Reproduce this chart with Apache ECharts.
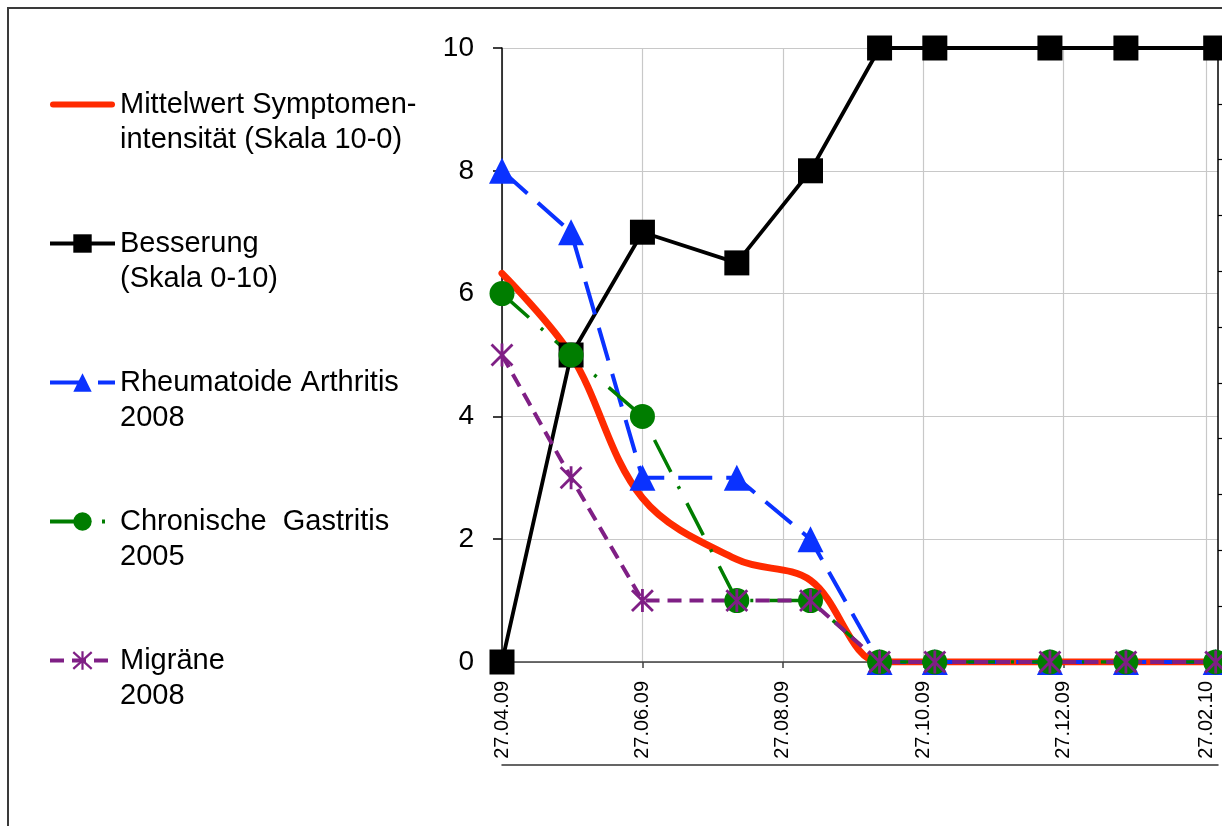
<!DOCTYPE html>
<html><head><meta charset="utf-8">
<script src="https://cdn.jsdelivr.net/npm/echarts@6/dist/echarts.min.js"></script>
<style>html,body{margin:0;padding:0;background:#fff}#c{width:1222px;height:826px}</style>
</head><body><div id="c"></div>
<script>
// ---- data ----
const dates = ['27.04.09','27.05.09','27.06.09','07.08.09','08.09.09','08.10.09','01.11.09','21.12.09','23.01.10','03.03.10'];
const tickLabels = ['27.04.09','27.06.09','27.08.09','27.10.09','27.12.09','27.02.10'];
const axisStart = '27.04.09';
const axisEnd = '04.03.10';
const seriesNames = [
  'Mittelwert Symptomen-\nintensität (Skala 10-0)',
  'Besserung\n(Skala 0-10)',
  'Rheumatoide Arthritis\n2008',
  'Chronische  Gastritis\n2005',
  'Migräne\n2008'
];
const mittelwert = [6.33, 5, 2.67, 1.67, 1.33, 0, 0, 0, 0, 0];
const besserung  = [0, 5, 7, 6.5, 8, 10, 10, 10, 10, 10];
const rheuma     = [8, 7, 3, 3, 2, 0, 0, 0, 0, 0];
const gastritis  = [6, 5, 4, 1, 1, 0, 0, 0, 0, 0];
const migraene   = [5, 3, 1, 1, 1, 0, 0, 0, 0, 0];
const yTicks = [0, 2, 4, 6, 8, 10];

// ---- helpers ----
const FONT = '"Liberation Sans", Arial, sans-serif';
const DAY = 86400000;
function parseD(s){ const p = s.split('.').map(Number); return Date.UTC(2000 + p[2], p[1] - 1, p[0]) / DAY; }
function two(n){ return (n < 10 ? '0' : '') + n; }
function fmt(v){ const d = new Date(Math.round(v) * DAY); return two(d.getUTCDate()) + '.' + two(d.getUTCMonth() + 1) + '.' + two(d.getUTCFullYear() % 100); }
const xs = dates.map(parseD);
const ticks = tickLabels.map(parseD);
const pairs = arr => xs.map((x, i) => [x, arr[i]]);

const RED = '#ff2a00', BLACK = '#000000', BLUE = '#0a32ff', GREEN = '#007d00', PURPLE = '#7f1f85';
const star = 'path://M0,0L20,20M20,0L0,20M10,-1L10,21';

const chart = echarts.init(document.getElementById('c'), null, {renderer: 'canvas'});
chart.setOption({
  backgroundColor: '#ffffff',
  animation: false,
  textStyle: {fontFamily: FONT},
  graphic: [{
    type: 'rect', silent: true, z: -10,
    shape: {x: 8, y: 8, width: 1300, height: 900},
    style: {fill: 'none', stroke: '#3a3a3a', lineWidth: 2}
  }],
  grid: {left: 502, right: 4, top: 48, bottom: 164, containLabel: false, outerBoundsMode: 'none'},
  legend: {
    orient: 'vertical', left: 48, top: 52, padding: 0,
    itemWidth: 65, itemHeight: 23, itemGap: 34, selectedMode: false,
    formatter: n => '\n' + n,
    lineStyle: {width: 4},
    textStyle: {fontSize: 29, lineHeight: 35, color: '#000', fontFamily: FONT},
    data: [
      {name: seriesNames[0], icon: 'path://M3,0H62A3,3 0 0 1 62,6H3A3,3 0 0 1 3,0Z', itemStyle: {color: RED}},
      seriesNames[1], seriesNames[2], seriesNames[3],
      {name: seriesNames[4], itemStyle: {color: PURPLE, borderColor: PURPLE, borderWidth: 2.2}}
    ]
  },
  xAxis: [{
    type: 'value', min: parseD(axisStart), max: parseD(axisEnd), position: 'bottom',
    axisLine: {show: true, onZero: false, lineStyle: {color: '#404040', width: 1.5}},
    axisTick: {show: true, customValues: ticks, length: 6, lineStyle: {color: '#404040', width: 1.5}},
    axisLabel: {customValues: ticks, rotate: 90, margin: 19, fontSize: 20, color: '#000', fontFamily: FONT,
      formatter: v => fmt(v), hideOverlap: false, showMinLabel: true, showMaxLabel: true},
    splitLine: {show: true, lineStyle: {color: '#c8c8c8', width: 1.2}}
  }, {
    type: 'value', min: parseD(axisStart), max: parseD(axisEnd), position: 'bottom', offset: 103,
    axisLine: {show: true, onZero: false, lineStyle: {color: '#333', width: 1.5}},
    axisTick: {show: false}, axisLabel: {show: false}, splitLine: {show: false}
  }],
  yAxis: [{
    type: 'value', min: yTicks[0], max: yTicks[yTicks.length - 1], interval: yTicks[1] - yTicks[0],
    axisLine: {show: true, onZero: false, lineStyle: {color: '#000', width: 1.5}},
    axisTick: {show: true, length: 9, lineStyle: {color: '#000', width: 1.5}},
    axisLabel: {fontSize: 28, color: '#000', margin: 28, fontFamily: FONT},
    splitLine: {show: true, lineStyle: {color: '#c8c8c8', width: 1.2}}
  }, {
    type: 'value', min: 0, max: 11, interval: 1, position: 'right',
    axisLine: {show: true, onZero: false, lineStyle: {color: '#000', width: 1.5}},
    axisTick: {show: true, length: 4, lineStyle: {color: '#000', width: 1.2}},
    axisLabel: {show: false}, splitLine: {show: false}
  }],
  series: [{
    name: seriesNames[0], type: 'line', data: pairs(mittelwert), smooth: 0.35,
    symbol: 'none', showSymbol: false,
    lineStyle: {color: RED, width: 7, cap: 'round', join: 'round'}, itemStyle: {color: RED}
  }, {
    name: seriesNames[1], type: 'line', data: pairs(besserung),
    symbol: 'rect', symbolSize: 25,
    lineStyle: {color: BLACK, width: 3.8}, itemStyle: {color: BLACK}
  }, {
    name: seriesNames[2], type: 'line', data: pairs(rheuma),
    symbol: 'triangle', symbolSize: 26,
    lineStyle: {color: BLUE, width: 4, type: [34, 14]}, itemStyle: {color: BLUE}
  }, {
    name: seriesNames[3], type: 'line', data: pairs(gastritis),
    symbol: 'circle', symbolSize: 25,
    lineStyle: {color: GREEN, width: 3.5, type: [36, 16, 3, 16]}, itemStyle: {color: GREEN}
  }, {
    name: seriesNames[4], type: 'line', data: pairs(migraene),
    symbol: star, symbolSize: 23, symbolKeepAspect: true,
    lineStyle: {color: PURPLE, width: 4, type: [14, 8]},
    itemStyle: {color: PURPLE, borderColor: PURPLE, borderWidth: 2.8}
  }]
});
</script>
</body></html>
